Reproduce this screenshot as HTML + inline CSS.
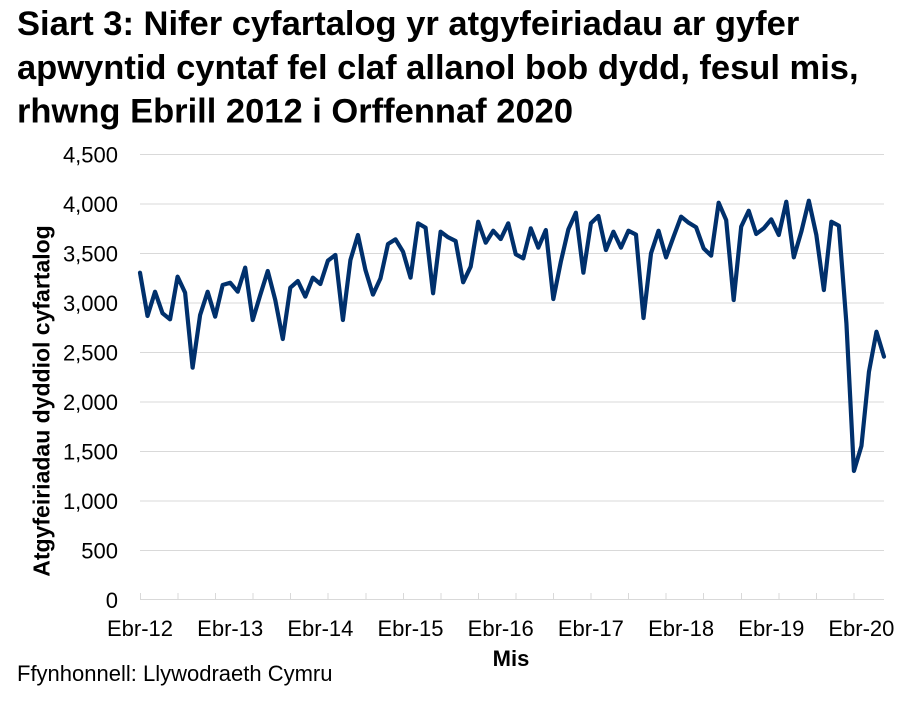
<!DOCTYPE html>
<html><head><meta charset="utf-8"><style>
html,body{margin:0;padding:0;background:#fff;}
svg{display:block;}
text{font-family:"Liberation Sans",Arial,sans-serif;fill:#000;}
</style></head><body>
<svg width="913" height="702" viewBox="0 0 913 702" xmlns="http://www.w3.org/2000/svg">
<rect width="913" height="702" fill="#fff"/>
<g font-weight="bold" font-size="34.5" fill="#1a1a1a">
<text x="17" y="35">Siart 3: Nifer cyfartalog yr atgyfeiriadau ar gyfer</text>
<text x="17" y="79">apwyntid cyntaf fel claf allanol bob dydd, fesul mis,</text>
<text x="17" y="122.7">rhwng Ebrill 2012 i Orffennaf 2020</text>
</g>
<g stroke="#d9d9d9" stroke-width="1">
<line x1="140" x2="884" y1="154.5" y2="154.5"/>
<line x1="140" x2="884" y1="204" y2="204"/>
<line x1="140" x2="884" y1="253.5" y2="253.5"/>
<line x1="140" x2="884" y1="303" y2="303"/>
<line x1="140" x2="884" y1="352.5" y2="352.5"/>
<line x1="140" x2="884" y1="402" y2="402"/>
<line x1="140" x2="884" y1="451.5" y2="451.5"/>
<line x1="140" x2="884" y1="501" y2="501"/>
<line x1="140" x2="884" y1="550.5" y2="550.5"/>
<line x1="140" x2="884" y1="599.5" y2="599.5"/>
</g>
<g stroke="#d9d9d9" stroke-width="1">
<line x1="140.5" x2="140.5" y1="593" y2="600"/>
<line x1="178" x2="178" y1="593" y2="600"/>
<line x1="215.5" x2="215.5" y1="593" y2="600"/>
<line x1="253" x2="253" y1="593" y2="600"/>
<line x1="290.5" x2="290.5" y1="593" y2="600"/>
<line x1="328" x2="328" y1="593" y2="600"/>
<line x1="366" x2="366" y1="593" y2="600"/>
<line x1="403.5" x2="403.5" y1="593" y2="600"/>
<line x1="441" x2="441" y1="593" y2="600"/>
<line x1="478.5" x2="478.5" y1="593" y2="600"/>
<line x1="516" x2="516" y1="593" y2="600"/>
<line x1="553.5" x2="553.5" y1="593" y2="600"/>
<line x1="591" x2="591" y1="593" y2="600"/>
<line x1="628.5" x2="628.5" y1="593" y2="600"/>
<line x1="666" x2="666" y1="593" y2="600"/>
<line x1="703.5" x2="703.5" y1="593" y2="600"/>
<line x1="741.5" x2="741.5" y1="593" y2="600"/>
<line x1="779" x2="779" y1="593" y2="600"/>
<line x1="816.5" x2="816.5" y1="593" y2="600"/>
<line x1="854" x2="854" y1="593" y2="600"/>
</g>
<g font-size="22" text-anchor="end">
<text x="118" y="162.7">4,500</text>
<text x="118" y="212.2">4,000</text>
<text x="118" y="261.7">3,500</text>
<text x="118" y="311.2">3,000</text>
<text x="118" y="360.7">2,500</text>
<text x="118" y="410.2">2,000</text>
<text x="118" y="459.7">1,500</text>
<text x="118" y="509.2">1,000</text>
<text x="118" y="558.7">500</text>
<text x="118" y="608">0</text>
</g>
<g font-size="22" text-anchor="middle">
<text x="140" y="636">Ebr-12</text>
<text x="230.2" y="636">Ebr-13</text>
<text x="320.4" y="636">Ebr-14</text>
<text x="410.5" y="636">Ebr-15</text>
<text x="500.7" y="636">Ebr-16</text>
<text x="590.9" y="636">Ebr-17</text>
<text x="681.1" y="636">Ebr-18</text>
<text x="771.3" y="636">Ebr-19</text>
<text x="861.4" y="636">Ebr-20</text>
</g>
<text x="511" y="666" font-size="22" font-weight="bold" text-anchor="middle">Mis</text>
<text font-size="23" font-weight="bold" text-anchor="middle" transform="translate(49.5,401) rotate(-90)">Atgyfeiriadau dyddiol cyfartalog</text>
<text x="17" y="681" font-size="22">Ffynhonnell: Llywodraeth Cymru</text>
<g transform="translate(140,599.5) scale(7.515,-0.099)">
<polyline fill="none" stroke="#00306c" stroke-width="4.2" stroke-linejoin="round" stroke-linecap="round" vector-effect="non-scaling-stroke" points="0,3301 1,2864 2,3109 3,2891 4,2830 5,3261 6,3099 7,2342 8,2874 9,3109 10,2857 11,3177 12,3200 13,3109 14,3352 15,2823 16,3076 17,3318 18,3025 19,2631 20,3150 21,3217 22,3059 23,3251 24,3187 25,3422 26,3480 27,2823 28,3429 29,3682 30,3328 31,3080 32,3244 33,3591 34,3638 35,3513 36,3251 37,3800 38,3756 39,3093 40,3715 41,3659 42,3621 43,3204 44,3362 45,3816 46,3604 47,3725 48,3641 49,3800 50,3487 51,3446 52,3749 53,3554 54,3732 55,3035 56,3412 57,3739 58,3907 59,3301 60,3800 61,3874 62,3530 63,3715 64,3554 65,3725 66,3686 67,2843 68,3497 69,3725 70,3456 71,3665 72,3867 73,3806 74,3760 75,3547 76,3473 77,4008 78,3833 79,3025 80,3766 81,3927 82,3692 83,3749 84,3840 85,3682 86,4018 87,3456 88,3715 89,4028 90,3682 91,3126 92,3816 93,3776 94,2790 95,1298 96,1551 97,2301 98,2705 99,2453"/>
</g>
</svg>
</body></html>
